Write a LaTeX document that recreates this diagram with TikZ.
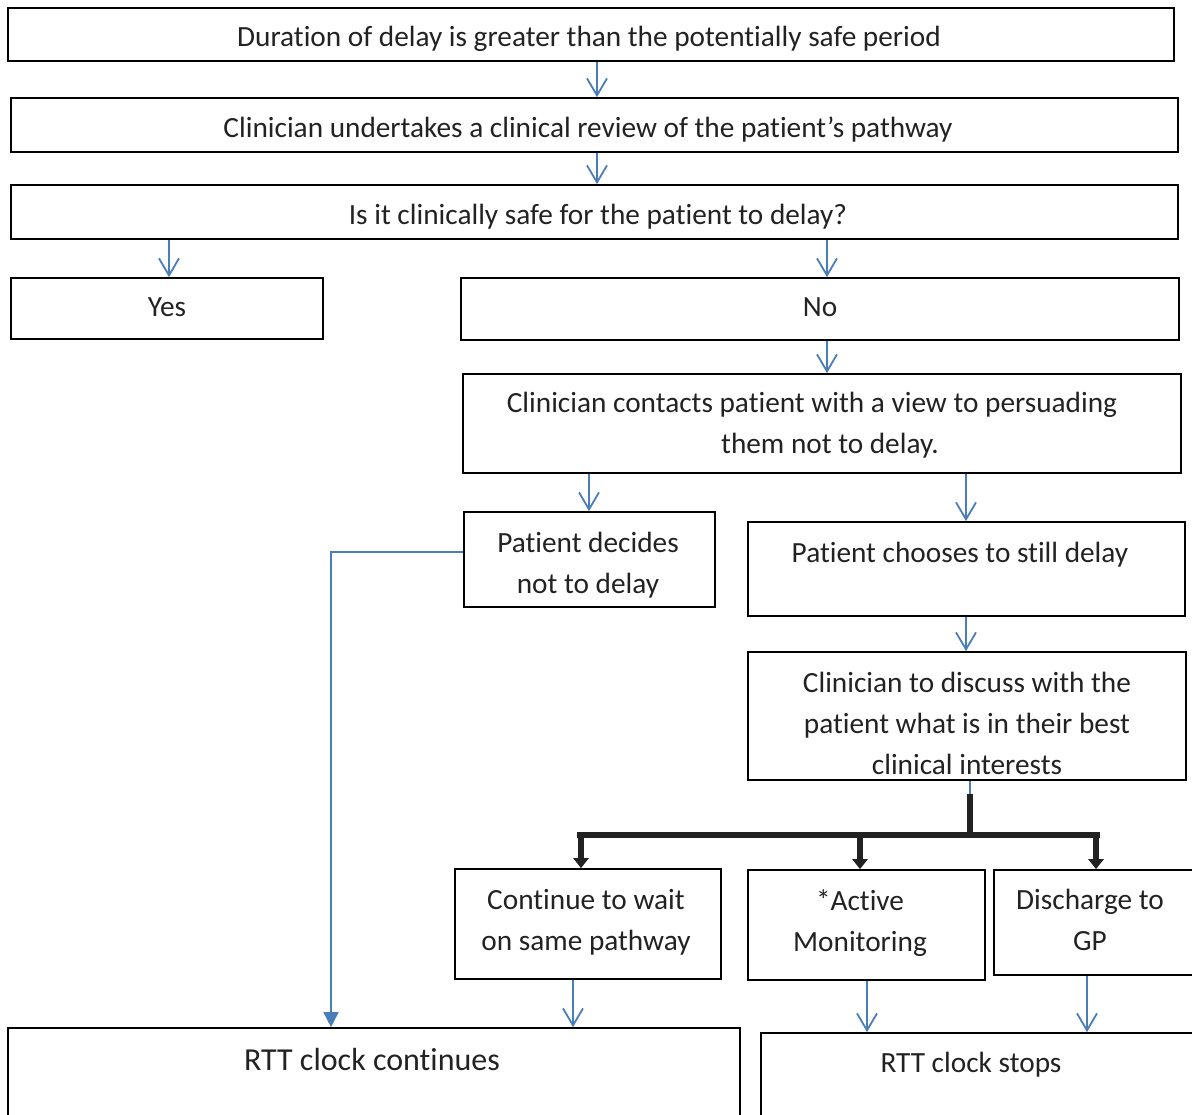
\documentclass[tikz,border=0pt]{standalone}
\usepackage{fontspec}
\setmainfont{Carlito}[RawFeature={-liga}]
\usetikzlibrary{arrows.meta,calc}
\definecolor{flowblue}{RGB}{74,126,187}
\definecolor{ink}{RGB}{34,34,34}

% box from corner (x1,y1) to (x2,y2), y measured downwards
\newcommand\flowbox[5]{%
  \node[box, minimum width={(#4-#2)*1pt}, minimum height={(#5-#3)*1pt}]
    (#1) at ({(#2+#4)/2},{(#3+#5)/2}) {};}

\begin{document}
\begin{tikzpicture}[x=1pt,y=-1pt,
  box/.style={draw=black, line width=1.7pt, inner sep=0pt, rectangle},
  lbl/.style={text=ink, font=\fontsize{29.3}{41}\selectfont, align=center,
              inner sep=0pt, anchor=base},
  biglbl/.style={lbl, font=\fontsize{32}{41}\selectfont},
  flow/.style={draw=flowblue, line width=1.8pt,
               -{Straight Barb[length=17pt,width=20pt,line width=1.8pt]}},
  flowfill/.style={draw=flowblue, line width=1.8pt,
               -{Triangle[length=15pt,width=15pt,fill=flowblue]}},
  trunk/.style={draw=ink, line width=6.5pt},
  drop/.style={draw=ink, line width=6pt,
               -{Triangle[length=10pt,width=15pt]}},
]
\useasboundingbox (0,0) rectangle (1192,1115);
\clip (0,0) rectangle (1192,1115);

% boxes
\flowbox{b1}{8}{8}{1174}{61}
\flowbox{b2}{11}{98}{1178}{152}
\flowbox{b3}{11}{185}{1178}{239}
\flowbox{b4}{11}{278}{323}{339}
\flowbox{b5}{461}{278}{1179}{340}
\flowbox{b6}{463}{374}{1181}{473}
\flowbox{b7}{464}{512}{715}{607}
\flowbox{b8}{748}{522}{1185}{616}
\flowbox{b9}{748}{652}{1186}{780}
\flowbox{b10}{455}{869}{721}{979}
\flowbox{b11}{748}{870}{985}{980}
\flowbox{b12}{994}{870}{1195}{975}
\flowbox{b13}{8}{1028}{740}{1140}
\flowbox{b14}{761}{1033}{1210}{1140}

% texts (anchored at the baseline of the last line)
\node[lbl] (t1) at (589,47) {Duration of delay is greater than the potentially safe period};
\node[lbl] (t2) at (588,138) {Clinician undertakes a clinical review of the patient’s pathway};
\node[lbl] (t3) at (598,225) {Is it clinically safe for the patient to delay?};
\node[lbl] (t4) at (167,317) {Yes};
\node[lbl] (t5) at (820,317) {No};
\node[lbl] (t6) at (812,453) {Clinician contacts patient with a view to persuading\\\hspace*{36pt}them not to delay.};
\node[lbl] (t7) at (588,593) {Patient decides\\not to delay};
\node[lbl] (t8) at (960,562) {Patient chooses to still delay};
\node[lbl] (t9) at (967,774) {Clinician to discuss with the\\patient what is in their best\\clinical interests};
\node[lbl] (t10) at (586,950) {Continue to wait\\on same pathway};
\node[lbl] (t11) at (860,951) {*Active\\Monitoring};
\node[lbl] (t12) at (1090,950) {Discharge to\\GP};
\node[biglbl] (t13) at (372,1070) {RTT clock continues};
\node[lbl] (t14) at (971,1072) {RTT clock stops};

% connector columns
\coordinate (cA) at (597,0);
\coordinate (cB) at (169,0);
\coordinate (cC) at (827,0);
\coordinate (cD) at (589,0);
\coordinate (cE) at (966,0);
\coordinate (cL) at (331,0);
\coordinate (cF) at (573,0);
\coordinate (cG) at (867,0);
\coordinate (cH) at (1087,0);

% blue connectors
\draw[flow] (b1.south -| cA) -- (b2.north -| cA);
\draw[flow] (b2.south -| cA) -- (b3.north -| cA);
\draw[flow] (b3.south -| cB) -- (b4.north -| cB);
\draw[flow] (b3.south -| cC) -- (b5.north -| cC);
\draw[flow] (b5.south -| cC) -- (b6.north -| cC);
\draw[flow] (b6.south -| cD) -- (b7.north -| cD);
\draw[flow] (b6.south -| cE) -- (b8.north -| cE);
\draw[flow] (b8.south -| cE) -- (b9.north -| cE);
\draw[flowfill] ([yshift=7.5pt]b7.west) -| (b13.north -| cL);
\draw[flow] (b10.south -| cF) -- (b13.north -| cF);
\draw[flow] (b11.south -| cG) -- (b14.north -| cG);
\draw[flow] (b12.south -| cH) -- (b14.north -| cH);

% branching connector to the three outcomes
\coordinate (j) at (970,835);
\coordinate (k1) at (581,835);
\coordinate (k2) at (860,835);
\coordinate (k3) at (1096,835);
\draw[draw=flowblue, line width=2.5pt] (b9.south -| j) -- ($(b9.south -| j)+(0,14)$);
\draw[trunk] ($(b9.south -| j)+(0,13)$) -- ([yshift=-3pt]j);
\draw[trunk] ([xshift=-4pt]k1) -- ([xshift=4pt]k3);
\draw[drop] ([yshift=3pt]k1) -- (b10.north -| k1);
\draw[drop] ([yshift=3pt]k2) -- (b11.north -| k2);
\draw[drop] ([yshift=3pt]k3) -- (b12.north -| k3);
\end{tikzpicture}
\end{document}
